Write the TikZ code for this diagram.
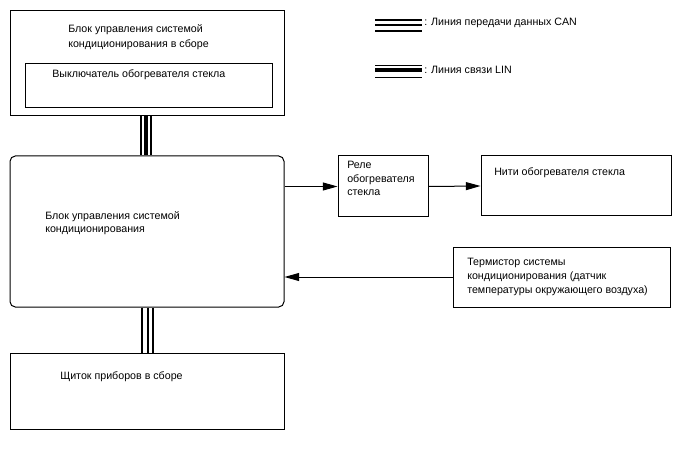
\documentclass[tikz,border=0pt]{standalone}
\usepackage{fontspec}
\setmainfont{Liberation Sans}
\usetikzlibrary{arrows.meta,fit}
\begin{document}
\begin{tikzpicture}[x=0.75pt,y=-0.75pt,
  box/.style={draw,line width=0.75pt,inner sep=0pt},
  lbl/.style={anchor=base west,inner sep=0pt,align=left,font=\fontsize{8}{10.5}\selectfont},
  arr/.style={line width=0.75pt,-{Triangle[length=11pt,width=6pt]}},
  thinl/.style={line width=0.8pt},
  thickl/.style={line width=3pt},
  canl/.style={line width=1.5pt}]
\useasboundingbox (0,0) rectangle (688,463);
% boxes
\node[box,fit={(10,11) (284,116)}] (topbox) {};
\node[box,fit={(25,64) (272,108)}] (sw) {};
\node[box,rounded corners=4pt,fit={(10,156) (284,307)}] (ecu) {};
\node[box,fit={(10,353) (284,429)}] (meter) {};
\node[box,fit={(338,156) (428,217)}] (relay) {};
\node[box,fit={(481,156) (671,216)}] (fil) {};
\node[box,fit={(453,247) (670,307)}] (therm) {};
% labels (multi-line nodes: base = last line)
\node[lbl,font=\fontsize{8}{11.2}\selectfont] (t1) at (68,47.5) {Блок управления системой\\кондиционирования в сборе};
\node[lbl] (t2) at (52,77.5) {Выключатель обогревателя стекла};
\node[lbl,font=\fontsize{8}{9.5}\selectfont] (t3) at (45,232.5) {Блок управления системой\\кондиционирования};
\node[lbl] (t4) at (60,379.5) {Щиток приборов в сборе};
\node[lbl,font=\fontsize{8}{10}\selectfont] (t5) at (347,195.5) {Реле\\обогревателя\\стекла};
\node[lbl] (t6) at (494,175.5) {Нити обогревателя стекла};
\node[lbl,font=\fontsize{8}{10.6}\selectfont] (t7) at (467,293.5) {Термистор системы\\кондиционирования (датчик\\температуры окружающего воздуха)};
\node[lbl] (t8) at (424,25.5) {: Линия передачи данных CAN};
\node[lbl] (t9) at (424,74) {: Линия связи LIN};
% arrows
\draw[arr] (ecu.east |- relay.west) -- (relay.west);
\draw[arr] (relay.east) -- (fil.west);
\draw[arr] (therm.west) -- (ecu.east |- therm.west);
% LIN bus top
\draw[thinl] (141,0 |- topbox.south) -- (141,0 |- ecu.north);
\draw[thickl] (145.5,0 |- topbox.south) -- (145.5,0 |- ecu.north);
\draw[thinl] (151,0 |- topbox.south) -- (151,0 |- ecu.north);
% CAN bus bottom
\draw[canl] (142,0 |- ecu.south) -- (142,0 |- meter.north);
\draw[canl] (147.5,0 |- ecu.south) -- (147.5,0 |- meter.north);
\draw[canl] (153,0 |- ecu.south) -- (153,0 |- meter.north);
% legend
\coordinate (ca) at (375,20); \coordinate (cb) at (422,20);
\draw[canl] (ca) -- (cb);
\draw[canl] ([yshift=-5*0.75pt]ca) -- ([yshift=-5*0.75pt]cb);
\draw[canl] ([yshift=-11.5*0.75pt]ca) -- ([yshift=-11.5*0.75pt]cb);
\coordinate (la) at (375,70); \coordinate (lb) at (422,70);
\draw[thickl] (la) -- (lb);
\draw[thinl] ([yshift=4.7*0.75pt]la) -- ([yshift=4.7*0.75pt]lb);
\draw[thinl] ([yshift=-7.5*0.75pt]la) -- ([yshift=-7.5*0.75pt]lb);
\end{tikzpicture}
\end{document}
